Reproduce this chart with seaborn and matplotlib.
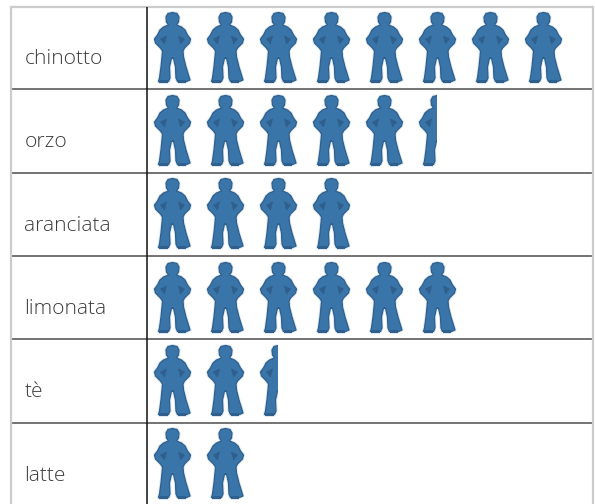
import numpy as np
import pandas as pd
import matplotlib
matplotlib.use('Agg')
import matplotlib.pyplot as plt
from matplotlib.path import Path
import seaborn as sns

# drinks and number of little men for each one
drinks = ['chinotto', 'orzo', 'aranciata', 'limonata', 'tè', 'latte']
counts = [8, 5.5, 4, 6, 2.5, 2]

sns.set_theme(style='white')
plt.rcParams['font.family'] = ['Open Sans', 'DejaVu Sans']

# outline of the little man, in pixels around his centre
outline = [(0, 34.5), (4.5, 33.5), (6.5, 30), (6, 25), (4, 22), (9, 20), (12.5, 17), (15, 12),
           (18, 8), (17, 4), (12, -1), (10.5, -4), (11, -10), (13.5, -20), (16, -28), (17.5, -33),
           (14, -34.5), (5, -34.5), (3.5, -31), (3, -20), (1, -11), (-1, -11), (-3, -20), (-2.5, -31),
           (-4, -34.5), (-14, -34.5), (-13, -31), (-11.5, -20), (-10.5, -10), (-10, -4), (-12, -1),
           (-17, 4), (-18, 8), (-15, 12), (-12.5, 17), (-9, 20), (-4, 22), (-6, 25),
           (-6.5, 30), (-4.5, 33.5)]
shade_r = [(6, 11), (8, 3), (12, 8)]
shade_l = [(-6, 11), (-12, 8), (-8, 3)]
# degenerate corners so the shading marker scales the same as the man
scale_pts = [(0, 34.5), (0.01, 34.5), (0, 34.51)]
lift = 1.5  # man sits a bit high in the row


def ring(pts):
    pts = [(x, y + lift) for x, y in pts]
    return Path(pts + [pts[0]], [Path.MOVETO] + [Path.LINETO] * (len(pts) - 1) + [Path.CLOSEPOLY])


man = ring(outline)
shade = Path.make_compound_path(ring(shade_r), ring(shade_l), ring(scale_pts))

# one row per man drawn, the partial ones get cut below
rows = []
for d, c in zip(drinks, counts):
    for i in range(int(np.ceil(c))):
        rows.append({'drink': d, 'pos': i + 0.5})
df = pd.DataFrame(rows)

fig = plt.figure(figsize=(5.95, 5.04), dpi=100)
ax = fig.add_axes([11 / 595, 0, 582 / 595, 497 / 504])

# soft halo first, the image in the original is blurry
sns.scatterplot(data=df, x='pos', y='drink', marker=man, s=2687, color='#3a78ae',
                edgecolor='#9dbcd8', linewidth=2.2, alpha=0.35, legend=False, ax=ax)
sns.scatterplot(data=df, x='pos', y='drink', marker=man, s=2687, color='#3a75aa',
                edgecolor='#2f5f8c', linewidth=0.9, legend=False, ax=ax)
sns.scatterplot(data=df, x='pos', y='drink', marker=shade, s=2687, color='#2f5f8c',
                edgecolor='#2f5f8c', linewidth=0.5, legend=False, ax=ax)

ax.set_xlim((11 - 145.5) / 53, (593 - 145.5) / 53)
ax.set_ylim(5.475, -0.488)

# cut each row at its value
clip_rects = []
for k, c in enumerate(counts):
    clip_rects.append(Path([(0, k - 0.5), (c, k - 0.5), (c, k + 0.5), (0, k + 0.5), (0, k - 0.5)], closed=True))
clip_all = Path.make_compound_path(*clip_rects)
for coll in ax.collections:
    coll.set_clip_path(clip_all, transform=ax.transData)

for k in range(5):
    ax.axhline(k + 0.5, color='#4d4d4d', lw=1.1, zorder=1)
ax.axvline(0.03, color='#111111', lw=1.1, zorder=3)

for k, d in enumerate(drinks):
    ax.text((24.5 - 145.5) / 53, k + 0.135, d, fontsize=15.1, fontweight='light', color='#3d3d3d', ha='left', va='center')

ax.set_xlabel('')
ax.set_ylabel('')
ax.set_xticks([])
ax.set_yticks([])
for side in ['top', 'left', 'right']:
    ax.spines[side].set_color('#cccccc')
    ax.spines[side].set_linewidth(1.6)
ax.spines['bottom'].set_visible(False)

fig.savefig('out.png', dpi=100)
